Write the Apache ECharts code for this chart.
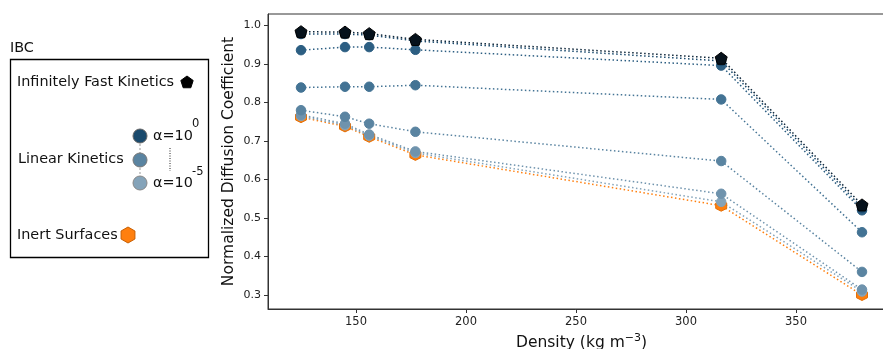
<!DOCTYPE html>
<html>
<head>
<meta charset="utf-8">
<script src="https://cdn.jsdelivr.net/npm/echarts@6/dist/echarts.min.js"></script>
<style>
  html, body { margin: 0; padding: 0; background: #fff; }
  #main { width: 883px; height: 349px; }
</style>
</head>
<body>
<div id="main"></div>
<script>
// densities (kg m^-3)
const density = [125, 145, 156, 177, 316, 380];

// normalized diffusion coefficient per IBC
const fastKinetics = [0.984, 0.983, 0.979, 0.964, 0.915, 0.534];
const alpha0 = [0.978, 0.978, 0.975, 0.960, 0.908, 0.527];
const alpha1 = [0.936, 0.944, 0.944, 0.937, 0.896, 0.520];
const alpha2 = [0.839, 0.841, 0.841, 0.845, 0.808, 0.463];
const alpha3 = [0.780, 0.763, 0.745, 0.724, 0.648, 0.360];
const alpha4 = [0.768, 0.745, 0.717, 0.673, 0.563, 0.314];
const alpha5 = [0.765, 0.741, 0.714, 0.669, 0.542, 0.309];
const inert = [0.762, 0.738, 0.711, 0.664, 0.532, 0.300];

const xTicks = [150, 200, 250, 300, 350];
const yTicks = [0.3, 0.4, 0.5, 0.6, 0.7, 0.8, 0.9, 1.0];

const blues = ['#1a4a6d', '#2c5e82', '#437394', '#5a84a1', '#6f93ad', '#84a3b9'];
const pentagon = 'path://M0,-1 L0.951,-0.309 L0.588,0.809 L-0.588,0.809 L-0.951,-0.309 Z';
const hexagon = 'path://M0,-1 L0.866,-0.5 L0.866,0.5 L0,1 L-0.866,0.5 L-0.866,-0.5 Z';
const FONT = 'DejaVu Sans';

const pairs = vals => density.map((d, i) => [d, vals[i]]);

const lineSeries = (vals, color, symbol, size, edge) => ({
  type: 'line',
  data: pairs(vals),
  symbol: symbol,
  symbolSize: size,
  showSymbol: true,
  silent: true,
  animation: false,
  lineStyle: { color: color, width: 1.5, type: [1.5, 2.5] },
  itemStyle: { color: color, borderColor: edge || color, borderWidth: 1, opacity: 1 }
});

const series = [
  lineSeries(inert, '#ff7f0e', hexagon, 11, '#e56f05'),
  lineSeries(alpha5, blues[5], 'circle', 9.5),
  lineSeries(alpha4, blues[4], 'circle', 9.5),
  lineSeries(alpha3, blues[3], 'circle', 9.5),
  lineSeries(alpha2, blues[2], 'circle', 9.5),
  lineSeries(alpha1, blues[1], 'circle', 9.5),
  lineSeries(alpha0, blues[0], 'circle', 9.5),
  lineSeries(fastKinetics, '#0c2438', pentagon, 12, '#000')
];
series[series.length - 1].itemStyle.color = '#06121c';

// hand-drawn legend box
function poly(cx, cy, r, n, rot) {
  const pts = [];
  for (let k = 0; k < n; k++) {
    const a = rot + k * 2 * Math.PI / n;
    pts.push([cx + r * Math.sin(a), cy - r * Math.cos(a)]);
  }
  return pts;
}
const txt = (x, y, s, size, va) => ({
  type: 'text', x: x, y: y,
  style: { text: s, fontFamily: FONT, fontSize: size || 14.4, fill: '#111', verticalAlign: va || 'middle' }
});

const legend = [
  txt(10, 48, 'IBC'),
  { type: 'rect', shape: { x: 10.5, y: 59.5, width: 198, height: 198 },
    style: { fill: 'none', stroke: '#000', lineWidth: 1.3 } },
  txt(17, 82, 'Infinitely Fast Kinetics'),
  { type: 'polygon', shape: { points: poly(187, 82.5, 6.5, 5, 0) },
    style: { fill: '#000', stroke: '#000' } },
  txt(18, 159, 'Linear Kinetics'),
  { type: 'line', shape: { x1: 140, y1: 136, x2: 140, y2: 183 },
    style: { stroke: '#aaa', lineWidth: 1.2, lineDash: [2, 2] } },
  { type: 'circle', shape: { cx: 140, cy: 136, r: 7 }, style: { fill: blues[0], stroke: '#666', lineWidth: 1 } },
  { type: 'circle', shape: { cx: 140, cy: 160, r: 7 }, style: { fill: blues[3], stroke: '#777', lineWidth: 1 } },
  { type: 'circle', shape: { cx: 140, cy: 183, r: 7 }, style: { fill: blues[5], stroke: '#888', lineWidth: 1 } },
  txt(153, 136, 'α=10'),
  txt(192, 124, '0', 11.5),
  { type: 'line', shape: { x1: 170, y1: 148, x2: 170, y2: 171 },
    style: { stroke: '#222', lineWidth: 1, lineDash: [1, 1.5] } },
  txt(153, 183, 'α=10'),
  txt(192, 172, '-5', 11.5),
  txt(17, 235, 'Inert Surfaces'),
  { type: 'polygon', shape: { points: poly(128, 235, 8, 6, 0) },
    style: { fill: '#ff7f0e', stroke: '#c85e00', lineWidth: 1 } }
];

const chart = echarts.init(document.getElementById('main'), null, { renderer: 'canvas' });
chart.setOption({
  animation: false,
  backgroundColor: '#fff',
  textStyle: { fontFamily: FONT },
  grid: {
    left: 268, top: 14, width: 627, height: 295,
    outerBoundsMode: 'none', containLabel: false,
    show: true, borderColor: '#333', borderWidth: 1, backgroundColor: 'transparent'
  },
  xAxis: {
    type: 'value', min: 110, max: 395,
    name: 'Density (kg m{sup|−3})',
    nameLocation: 'middle', nameGap: 24, nameMoveOverlap: false,
    nameTextStyle: {
      fontFamily: FONT, fontSize: 15.5, color: '#111',
      rich: { sup: { fontFamily: FONT, fontSize: 11, color: '#111', padding: [0, 0, 9, 0] } }
    },
    axisLine: { show: true, lineStyle: { color: '#333', width: 1 } },
    axisTick: { show: true, customValues: xTicks, length: 4, lineStyle: { color: '#333' } },
    axisLabel: { customValues: xTicks, fontFamily: FONT, fontSize: 11.5, color: '#222', margin: 7 },
    splitLine: { show: false }
  },
  yAxis: {
    type: 'value', min: 0.2636, max: 1.030,
    name: 'Normalized Diffusion Coefficient',
    nameLocation: 'middle', nameGap: 31, nameRotate: 90, nameMoveOverlap: false,
    nameTextStyle: { fontFamily: FONT, fontSize: 15.5, color: '#111' },
    axisLine: { show: true, lineStyle: { color: '#333', width: 1 } },
    axisTick: { show: true, customValues: yTicks, length: 4, lineStyle: { color: '#333' } },
    axisLabel: {
      customValues: yTicks, fontFamily: FONT, fontSize: 11, color: '#222', margin: 7,
      formatter: v => v.toFixed(1)
    },
    splitLine: { show: false }
  },
  graphic: legend,
  series: series
});
</script>
</body>
</html>
